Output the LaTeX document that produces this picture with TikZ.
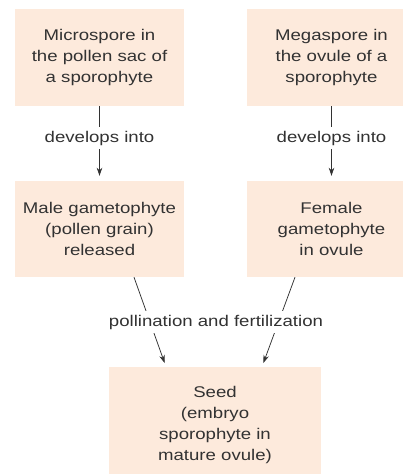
\documentclass[tikz,border=0pt]{standalone}
\usepackage{fontspec}
\setmainfont{Liberation Sans}[FakeStretch=1.2]
\usepackage{tikz}
\usetikzlibrary{positioning,calc,arrows.meta}
\definecolor{BoxPeach}{RGB}{253,234,220}
\definecolor{TextGray}{RGB}{50,50,50}

\begin{document}
\begin{tikzpicture}[x=1pt, y=1pt,
                % Style cho ô giai đoạn
                stagenode/.style={
                    fill=BoxPeach, draw=none,
                    minimum width=169pt, minimum height=97pt,
                    inner sep=0pt, align=center,
                    font=\fontsize{15.5}{21}\selectfont, text=TextGray
                },
                % Style cho nhãn trên mũi tên
                steplabel/.style={
                    fill=white, inner sep=4pt,
                    font=\fontsize{15.5}{21}\selectfont, text=TextGray
                },
                % Style cho mũi tên
                flowarrow/.style={
                    -{Stealth[length=8pt,width=5.5pt]},
                    draw=TextGray, line width=0.75pt, shorten >=5pt
                }
            ]
                \useasboundingbox (0,0) rectangle (403,474);

                % --- 1. Hàng trên: bào tử ---
                \node[stagenode] (Micro) at (99.5,416.5) {Microspore in\\the pollen sac of\\a sporophyte};
                \node[stagenode] (Mega) at (331.5,416.5) {Megaspore in\\the ovule of a\\sporophyte};

                % --- 2. Hàng giữa: thể giao tử ---
                \node[stagenode, minimum height=96pt] (Male) at (99.5,245) {Male gametophyte\\(pollen grain)\\released};
                \node[stagenode, minimum height=96pt] (Female) at (331.5,245) {Female\\gametophyte\\in ovule};

                % --- 3. Hàng dưới: hạt ---
                \node[stagenode, minimum width=212pt, minimum height=116pt] (Seed) at (215,49) {Seed\\(embryo\\sporophyte in\\mature ovule)};

                % --- 4. Mũi tên ---
                \draw[flowarrow] (Micro.south) -- (Male.north) node[steplabel, pos=0.43] {develops into};
                \draw[flowarrow] (Mega.south) -- (Female.north) node[steplabel, pos=0.43] {develops into};
                \draw[flowarrow, shorten >=4pt] ($(Male.south)+(34.5,0)$) -- ($(Seed.north)+(-49,0)$);
                \draw[flowarrow, shorten >=4pt] ($(Female.south)+(-36.5,0)$) -- ($(Seed.north)+(47,0)$);
                \node[steplabel] (Pollin) at (216,152) {pollination and fertilization};

            \end{tikzpicture}
\end{document}
